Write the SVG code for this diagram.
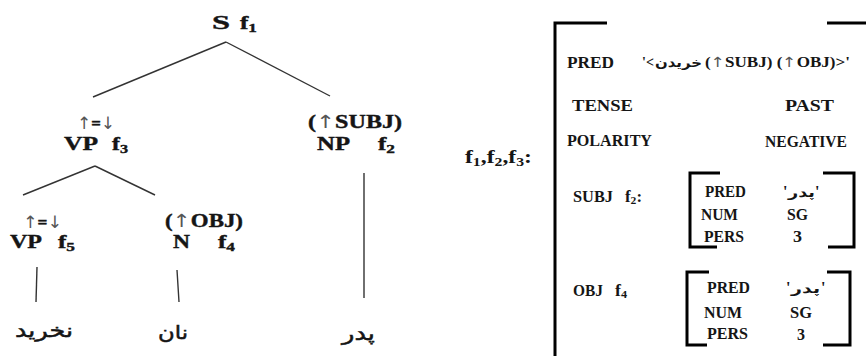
<svg xmlns="http://www.w3.org/2000/svg" width="866" height="356" viewBox="0 0 866 356">
<style>
.t{font-family:"Liberation Serif","Times New Roman",serif;font-weight:bold;fill:#151515;}
.tr{font-size:19px;stroke:#151515;stroke-width:0.4;}
.ta{font-size:17px;stroke:#151515;stroke-width:0.4;}
.ar{font-family:"DejaVu Sans","Noto Sans",sans-serif;fill:#151515;}
.arr{fill:#555;font-family:"DejaVu Sans",sans-serif;font-weight:normal;stroke:none;}
.fs{font-size:16px;}
.fv{font-size:14px;}
.ln{stroke:#333;stroke-width:1.4;fill:none;}
.br{stroke:#000;stroke-width:3;fill:none;}
</style>
<rect width="866" height="356" fill="#fff"/>
<g id="connectors">
<line class="ln" x1="226" y1="42" x2="93" y2="97"/>
<line class="ln" x1="226" y1="42" x2="330" y2="96"/>
<line class="ln" x1="95" y1="166" x2="23" y2="195"/>
<line class="ln" x1="95" y1="166" x2="155" y2="195"/>
<line class="ln" x1="37" y1="267" x2="36" y2="302"/>
<line class="ln" x1="177" y1="270" x2="179" y2="302"/>
<line class="ln" x1="364" y1="173" x2="364" y2="298" stroke-width="2"/>
</g>
<g id="node-S">
<text class="t tr" x="212" y="29" textLength="18" lengthAdjust="spacingAndGlyphs">S</text>
<text class="t tr" x="240" y="29" textLength="17" lengthAdjust="spacingAndGlyphs">f<tspan font-size="13" dy="3">1</tspan></text>
</g>
<g id="node-VP3">
<text class="t ta" x="77" y="129" textLength="38" lengthAdjust="spacingAndGlyphs"><tspan class="arr">↑</tspan>=<tspan class="arr">↓</tspan></text>
<text class="t tr" x="64" y="150" textLength="34" lengthAdjust="spacingAndGlyphs">VP</text>
<text class="t tr" x="112" y="150" textLength="16" lengthAdjust="spacingAndGlyphs">f<tspan font-size="13" dy="3">3</tspan></text>
</g>
<g id="node-NP2">
<text class="t tr" x="308" y="128" textLength="94" lengthAdjust="spacingAndGlyphs">(<tspan class="arr" font-size="18">↑</tspan>SUBJ)</text>
<text class="t tr" x="317" y="150" textLength="33" lengthAdjust="spacingAndGlyphs">NP</text>
<text class="t tr" x="378" y="150" textLength="17" lengthAdjust="spacingAndGlyphs">f<tspan font-size="13" dy="3">2</tspan></text>
</g>
<g id="node-VP5">
<text class="t ta" x="23" y="228" textLength="39" lengthAdjust="spacingAndGlyphs"><tspan class="arr">↑</tspan>=<tspan class="arr">↓</tspan></text>
<text class="t tr" x="10" y="248" textLength="32" lengthAdjust="spacingAndGlyphs">VP</text>
<text class="t tr" x="58" y="248" textLength="17" lengthAdjust="spacingAndGlyphs">f<tspan font-size="13" dy="3">5</tspan></text>
</g>
<g id="node-N4">
<text class="t tr" x="165" y="227" textLength="78" lengthAdjust="spacingAndGlyphs">(<tspan class="arr" font-size="18">↑</tspan>OBJ)</text>
<text class="t tr" x="173" y="248" textLength="17" lengthAdjust="spacingAndGlyphs">N</text>
<text class="t tr" x="218" y="248" textLength="17" lengthAdjust="spacingAndGlyphs">f<tspan font-size="13" dy="3">4</tspan></text>
</g>
<g id="word-nakharid"><text class="ar" x="15" y="337" font-size="19" stroke="#151515" stroke-width="0.5" textLength="58" lengthAdjust="spacingAndGlyphs">نخرید</text></g>
<g id="word-nan"><text class="ar" x="158" y="339" font-size="19" stroke="#151515" stroke-width="0.5" textLength="30" lengthAdjust="spacingAndGlyphs">نان</text></g>
<g id="word-pedar"><text class="ar" x="342" y="340" font-size="19" stroke="#151515" stroke-width="0.5" textLength="33" lengthAdjust="spacingAndGlyphs">پدر</text></g>

<g id="fstructure">
<text class="t" x="465" y="163" font-size="18" textLength="67" lengthAdjust="spacingAndGlyphs">f<tspan font-size="12" dy="3">1</tspan><tspan dy="-3">,f</tspan><tspan font-size="12" dy="3">2</tspan><tspan dy="-3">,f</tspan><tspan font-size="12" dy="3">3</tspan><tspan dy="-3">:</tspan></text>
<path class="br" d="M607,23 H555 V358"/>
<path class="br" d="M827,23 H868"/>
<text class="t fs" x="567" y="68" textLength="47" lengthAdjust="spacingAndGlyphs">PRED</text>
<text class="t fv" x="642" y="67">'&lt;</text>
<text class="ar" x="655" y="67" font-size="13" font-weight="bold" textLength="47" lengthAdjust="spacingAndGlyphs">خریدن</text>
<text class="t fv" x="705" y="67" textLength="145" lengthAdjust="spacingAndGlyphs">(<tspan class="arr">↑</tspan>SUBJ) (<tspan class="arr">↑</tspan>OBJ)&gt;'</text>
<text class="t fs" x="572" y="111" textLength="61" lengthAdjust="spacingAndGlyphs">TENSE</text>
<text class="t fs" x="785" y="111" textLength="49" lengthAdjust="spacingAndGlyphs">PAST</text>
<text class="t fs" x="567" y="146" textLength="85" lengthAdjust="spacingAndGlyphs">POLARITY</text>
<text class="t fs" x="765" y="147" textLength="82" lengthAdjust="spacingAndGlyphs">NEGATIVE</text>
</g>
<g id="subj">
<text class="t fs" x="573" y="202" textLength="40" lengthAdjust="spacingAndGlyphs">SUBJ</text>
<text class="t fs" x="625" y="202" textLength="17" lengthAdjust="spacingAndGlyphs">f<tspan font-size="11" dy="2">2</tspan><tspan dy="-2">:</tspan></text>
<path class="br" d="M720,173 H690 V247 H717"/>
<path class="br" d="M823,173 H854 V247 H828"/>
<text class="t fs" x="705" y="197" textLength="41" lengthAdjust="spacingAndGlyphs">PRED</text>
<text class="t fs" x="701" y="220" textLength="37" lengthAdjust="spacingAndGlyphs">NUM</text>
<text class="t fs" x="704" y="242" textLength="40" lengthAdjust="spacingAndGlyphs">PERS</text>
<text class="t fs" x="783" y="197">'</text>
<text class="ar" x="788" y="197" font-size="13" font-weight="bold" textLength="27" lengthAdjust="spacingAndGlyphs">پدر</text>
<text class="t fs" x="815" y="197">'</text>
<text class="t fs" x="787" y="220" textLength="21" lengthAdjust="spacingAndGlyphs">SG</text>
<text class="t fs" x="793" y="242" textLength="9" lengthAdjust="spacingAndGlyphs">3</text>
</g>
<g id="obj">
<text class="t fs" x="573" y="296" textLength="30" lengthAdjust="spacingAndGlyphs">OBJ</text>
<text class="t fs" x="615" y="296" textLength="12" lengthAdjust="spacingAndGlyphs">f<tspan font-size="11" dy="2">4</tspan></text>
<path class="br" d="M709,272 H687 V345 H707"/>
<path class="br" d="M827,272 H850 V345 H823"/>
<text class="t fs" x="707" y="293" textLength="43" lengthAdjust="spacingAndGlyphs">PRED</text>
<text class="t fs" x="704" y="318" textLength="38" lengthAdjust="spacingAndGlyphs">NUM</text>
<text class="t fs" x="707" y="339" textLength="41" lengthAdjust="spacingAndGlyphs">PERS</text>
<text class="t fs" x="786" y="293">'</text>
<text class="ar" x="791" y="293" font-size="13" font-weight="bold" textLength="29" lengthAdjust="spacingAndGlyphs">پدر</text>
<text class="t fs" x="821" y="293">'</text>
<text class="t fs" x="790" y="318" textLength="22" lengthAdjust="spacingAndGlyphs">SG</text>
<text class="t fs" x="797" y="340" textLength="8" lengthAdjust="spacingAndGlyphs">3</text>
</g>
</svg>
